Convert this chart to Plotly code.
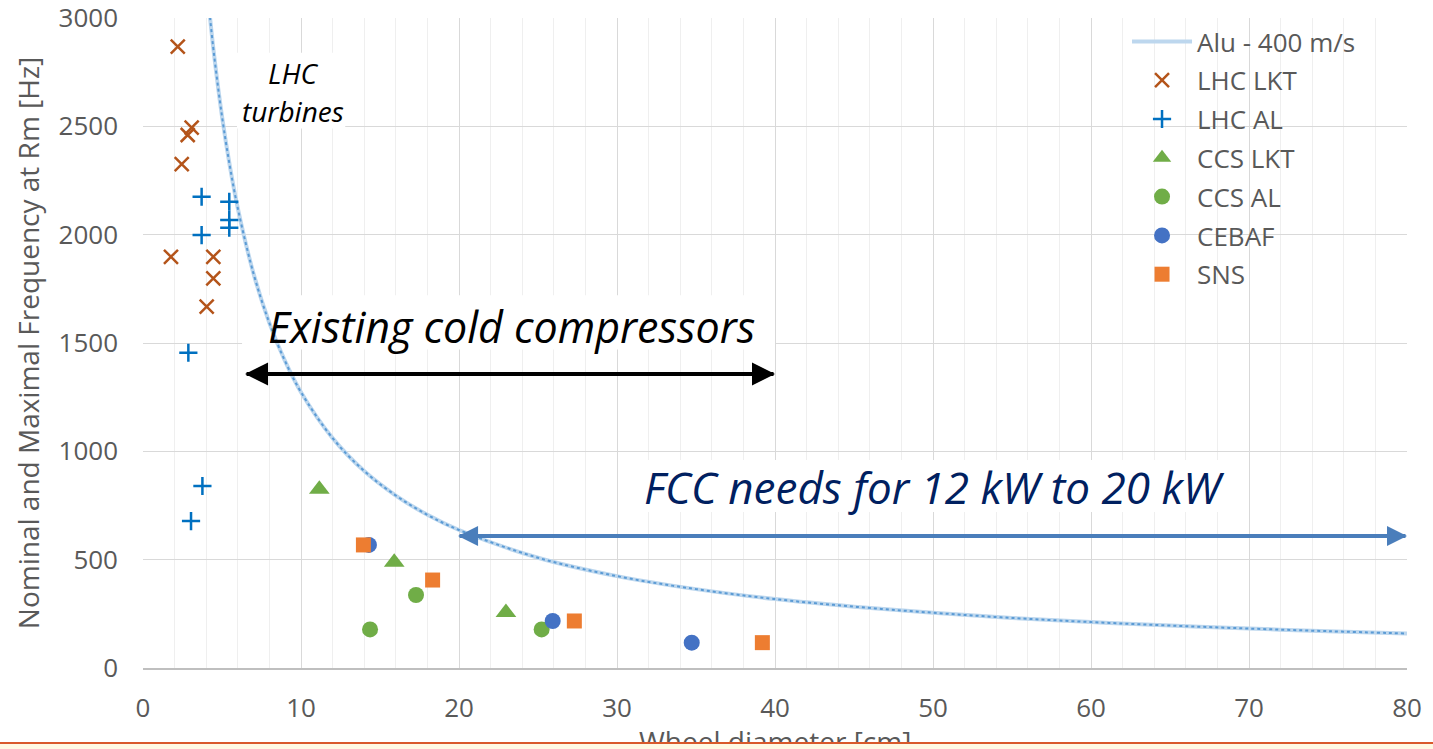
import plotly.graph_objects as go

# ---- data ----
alu_x = [4.2, 4.5, 5, 5.5, 6, 7, 8, 9, 10, 12, 14, 16, 18, 20, 25, 30, 35, 40, 45, 50, 55, 60, 65, 70, 75, 80]
alu_y = [3032, 2829, 2546, 2315, 2122, 1819, 1592, 1415, 1273, 1061, 909, 796, 707, 637, 509, 424, 364, 318,
         283, 255, 231, 212, 196, 182, 170, 159]

lhc_lkt_x = [2.2, 3.08, 2.83, 2.45, 1.77, 4.45, 4.45, 4.03]
lhc_lkt_y = [2868, 2494, 2460, 2326, 1898, 1898, 1798, 1668]

lhc_al_x = [3.71, 5.46, 5.46, 5.46, 3.71, 2.87, 3.76, 3.04]
lhc_al_y = [2175, 2152, 2068, 2032, 1998, 1455, 840, 678]

ccs_lkt_x = [11.16, 15.9, 22.97]
ccs_lkt_y = [825, 488, 256]

ccs_al_x = [14.37, 17.28, 25.23]
ccs_al_y = [178, 337, 178]

cebaf_x = [14.3, 25.93, 34.73]
cebaf_y = [568, 217, 117]

sns_x = [13.95, 18.33, 27.3, 39.2]
sns_y = [568, 406, 217, 117]

x_ticks = [0, 10, 20, 30, 40, 50, 60, 70, 80]
y_ticks = [0, 500, 1000, 1500, 2000, 2500, 3000]

# annotation anchors (data units)
existing_arrow = dict(x0=6.46, x1=40.0, y=1357)
fcc_arrow = dict(x0=19.94, x1=80.0, y=609)

FONT = "Open Sans"
GRAY = "#595959"

fig = go.Figure()

fig.add_trace(go.Scatter(x=alu_x, y=alu_y, mode="lines", name="Alu - 400 m/s",
                         line=dict(color="#BDD7EE", width=4, shape="spline"),
                         legendgroup="a"))
fig.add_trace(go.Scatter(x=alu_x, y=alu_y, mode="lines", showlegend=False,
                         line=dict(color="#5B9BD5", width=2, dash="dot", shape="spline"),
                         hoverinfo="skip", legendgroup="a"))

def mk(x, y, name, symbol, color, size, lw=0, grp=""):
    return go.Scatter(x=x, y=y, mode="markers", name=name, legendgroup=grp,
                      marker=dict(symbol=symbol, color=color, size=size,
                                  line=dict(color=color, width=lw)))

fig.add_trace(mk(lhc_lkt_x, lhc_lkt_y, "LHC LKT", "x-thin", "#B4541A", 14, 2.5, "b"))
fig.add_trace(mk(lhc_al_x, lhc_al_y, "LHC AL", "cross-thin", "#0070C0", 13, 2.5, "c"))
fig.add_trace(mk(ccs_lkt_x, ccs_lkt_y, "CCS LKT", "triangle-up", "#70AD47", 18, 0, "d"))
fig.add_trace(mk(ccs_al_x, ccs_al_y, "CCS AL", "circle", "#70AD47", 16, 0, "e"))
fig.add_trace(mk(cebaf_x, cebaf_y, "CEBAF", "circle", "#4472C4", 16, 0, "f"))
fig.add_trace(mk(sns_x, sns_y, "SNS", "square", "#ED7D31", 15, 0, "g"))

annotations = []
# text labels
annotations.append(dict(x=9.49, y=2746, xref="x", yref="y", text="<i>LHC</i>", showarrow=False,
                        font=dict(family=FONT, size=28, color="black")))
annotations.append(dict(x=9.49, y=2571, xref="x", yref="y", text="<i>turbines</i>", showarrow=False,
                        font=dict(family=FONT, size=28, color="black")))
annotations.append(dict(x=23.35, y=1574, xref="x", yref="y", text="<i>Existing cold compressors</i>",
                        showarrow=False, font=dict(family=FONT, size=43, color="black")))
annotations.append(dict(x=50.1, y=835, xref="x", yref="y", text="<i>FCC needs for 12 kW to 20 kW</i>",
                        showarrow=False, font=dict(family=FONT, size=44, color="#002060")))

# double arrows: two full-length arrows in opposite directions
def double_arrow(a, color, width, size):
    out = []
    for head, tail in ((a["x0"], a["x1"]), (a["x1"], a["x0"])):
        out.append(dict(x=head, y=a["y"], ax=tail, ay=a["y"], xref="x", yref="y", axref="x", ayref="y",
                        text="", showarrow=True, arrowhead=2, arrowsize=size, arrowwidth=width,
                        arrowcolor=color, standoff=0, startstandoff=0))
    return out

annotations += double_arrow(existing_arrow, "black", 4, 1.15)
annotations += double_arrow(fcc_arrow, "#4A7EBB", 4, 1.0)

# x-axis title (partly hidden by the slide footer strip)
annotations.append(dict(x=0.5, y=-0.113, xref="paper", yref="paper", text="Wheel diameter [cm]",
                        showarrow=False, yanchor="middle", font=dict(family=FONT, size=28, color=GRAY)))
# footer strip of the slide
annotations.append(dict(x=0.5, y=-0.1138, xref="paper", yref="paper", text=" ", showarrow=False,
                        xanchor="center", yanchor="top", width=1800, height=40,
                        bgcolor="#FFF9E3", bordercolor="#D9592B", borderwidth=2, borderpad=0))

shapes = [
    dict(type="rect", xref="x", yref="y", x0=5.95, x1=12.8, y0=2490, y1=2840, layer="between",
         fillcolor="white", line=dict(width=0)),
    dict(type="rect", xref="x", yref="y", x0=6.27, x1=40.0, y0=1470, y1=1720, layer="between",
         fillcolor="white", line=dict(width=0)),
    dict(type="rect", xref="x", yref="y", x0=30.4, x1=70.0, y0=720, y1=960, layer="between",
         fillcolor="white", line=dict(width=0)),
]

fig.update_layout(
    width=1433, height=749,
    margin=dict(l=143, r=26, t=18, b=81, autoexpand=False),
    paper_bgcolor="white", plot_bgcolor="white",
    font=dict(family=FONT, color=GRAY),
    showlegend=True,
    legend=dict(x=0.7785, y=1.0, xanchor="left", yanchor="top", bgcolor="rgba(255,255,255,0)",
                font=dict(family=FONT, size=26, color=GRAY), traceorder="grouped",
                tracegroupgap=2, itemwidth=60),
    annotations=annotations,
    shapes=shapes,
    xaxis=dict(range=[0, 80], tickvals=x_ticks, ticktext=[str(v) for v in x_ticks],
               showgrid=True, gridcolor="#D9D9D9", gridwidth=1,
               minor=dict(dtick=2, showgrid=True, gridcolor="#EFEFEF", gridwidth=1),
               showline=True, linecolor="#BFBFBF", linewidth=1.5, zeroline=False,
               tickfont=dict(family=FONT, size=26, color=GRAY), ticks="", ticklabelstandoff=16,
               ticklabeloverflow="allow"),
    yaxis=dict(range=[0, 3000], tickvals=y_ticks, ticktext=[str(v) for v in y_ticks],
               showgrid=True, gridcolor="#D9D9D9", gridwidth=1, zeroline=False,
               tickfont=dict(family=FONT, size=26, color=GRAY), ticklabelstandoff=24, ticks="",
               ticklabeloverflow="allow",
               title=dict(text="Nominal and Maximal Frequency at Rm [Hz]",
                          font=dict(family=FONT, size=28, color=GRAY), standoff=10)),
)

fig.write_html("out.html", config={"displayModeBar": False},
               post_script="document.body.style.margin='0';")
